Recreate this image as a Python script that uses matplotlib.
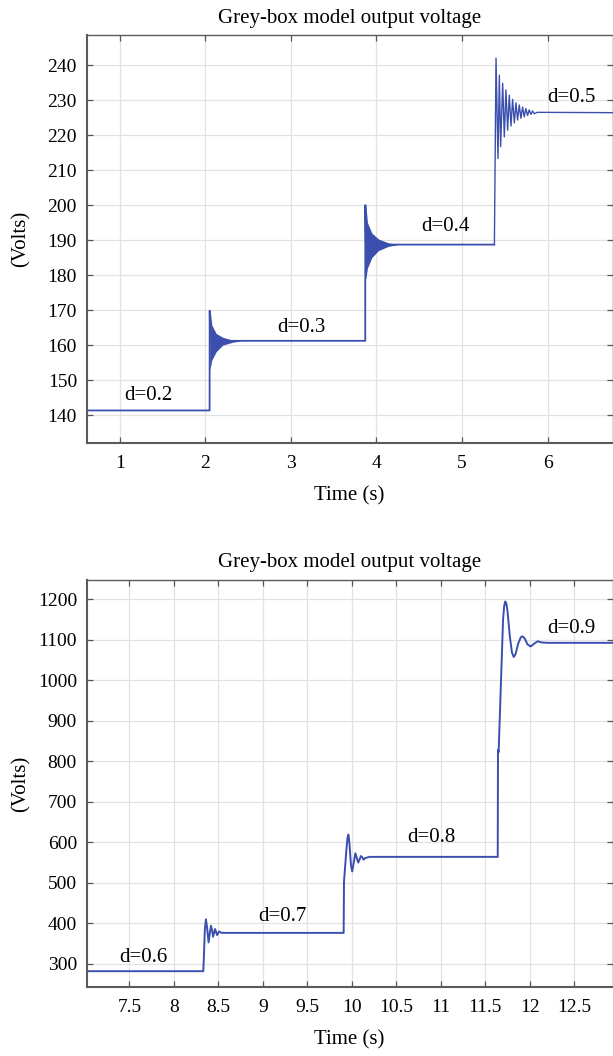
import matplotlib
matplotlib.use("Agg")
import matplotlib.pyplot as plt

# --- data ---
TITLE = "Grey-box model output voltage"
LINE_COLOR = "#3b4fae"

# top panel: step response, d = 0.2 .. 0.5
top_t = [0.60, 2.049, 2.050, 2.056, 3.869, 3.870, 3.876, 5.378]
top_v = [141.3, 141.3, 169.8, 161.2, 161.2, 200.0, 188.7, 188.7]

# dense ringing after the d=0.3 and d=0.4 steps (envelope)
env3_t = [2.050, 2.056, 2.075, 2.126, 2.204, 2.320, 2.420]
env3_hi = [169.8, 169.8, 165.7, 163.3, 162.2, 161.4, 161.2]
env3_lo = [153.3, 153.3, 155.7, 158.1, 160.0, 160.8, 161.2]

env4_t = [3.870, 3.876, 3.895, 3.946, 4.024, 4.140, 4.240]
env4_hi = [200.0, 200.0, 195.0, 192.0, 190.3, 189.2, 188.8]
env4_lo = [179.0, 179.0, 182.0, 185.0, 187.0, 188.2, 188.6]

# ringing after the d=0.5 step (individual peaks / troughs)
ring5_t = [5.379, 5.398, 5.421, 5.437, 5.452, 5.476, 5.495, 5.514, 5.534,
           5.553, 5.573, 5.592, 5.612, 5.631, 5.650, 5.670, 5.689, 5.709,
           5.728, 5.747, 5.767, 5.786, 5.806, 5.825, 5.845, 5.880, 6.800]
ring5_v = [188.7, 242.0, 213.3, 237.1, 216.7, 234.8, 219.5, 232.9, 221.4,
           231.4, 222.6, 230.2, 223.5, 229.2, 224.3, 228.6, 224.8, 228.0,
           225.2, 227.6, 225.6, 227.2, 225.9, 226.9, 226.1, 226.5, 226.4]

top_labels = ["d=0.2", "d=0.3", "d=0.4", "d=0.5"]
top_label_t = [1.33, 3.12, 4.81, 6.28]
top_label_v = [145.5, 165.1, 193.8, 230.6]

# bottom panel: d = 0.6 .. 0.9
bot_t = [7.00, 8.330, 8.336, 8.348, 8.360, 8.372, 8.390, 8.405, 8.417, 8.430,
         8.440, 8.452, 8.462, 8.474, 8.486, 8.498, 8.510, 8.530, 8.560,
         9.908, 9.912, 9.940, 9.952, 9.962, 9.972, 9.990, 10.004, 10.020,
         10.040, 10.058, 10.072, 10.088, 10.102, 10.118, 10.132, 10.150,
         10.200,
         11.640, 11.643, 11.650, 11.700, 11.712, 11.724, 11.736, 11.750,
         11.775, 11.800, 11.820, 11.840, 11.870, 11.900, 11.920, 11.945,
         11.975, 12.010, 12.050, 12.090, 12.130, 12.200, 13.000]
bot_v = [282, 282, 310, 385, 410, 392, 353, 378, 394, 382,
         367, 376, 386, 379, 371, 376, 380, 377, 376.5,
         376.5, 503, 585, 612, 619, 600, 545, 528, 548,
         573, 560, 550, 558, 566, 563, 557, 561,
         564,
         564, 828, 822, 1150, 1182, 1194, 1190, 1170,
         1110, 1068, 1057, 1064, 1090, 1106, 1108, 1102,
         1088, 1083, 1090, 1096, 1093, 1092, 1092]

bot_labels = ["d=0.6", "d=0.7", "d=0.8", "d=0.9"]
bot_label_t = [7.66, 9.22, 10.89, 12.47]
bot_label_v = [316, 417, 611, 1128]

top_xticks = [1, 2, 3, 4, 5, 6]
top_yticks = list(range(140, 241, 10))
bot_xticks = [7.5, 8, 8.5, 9, 9.5, 10, 10.5, 11, 11.5, 12, 12.5]
bot_xticklabels = ["7.5", "8", "8.5", "9", "9.5", "10", "10.5", "11", "11.5", "12", "12.5"]
bot_yticks = list(range(300, 1201, 100))

plt.rcParams['font.family'] = ['Liberation Serif', 'DejaVu Serif']

fig = plt.figure(figsize=(6.13, 10.56), dpi=100)

W, H = 613.0, 1056.0
left = 86.7 / W
width = (612.5 - 86.7) / W


def style_axes(ax):
    ax.grid(True, color="#e2e2e2", lw=0.9)
    ax.set_axisbelow(True)
    for name, s in ax.spines.items():
        s.set_color("#5a5a5a")
        s.set_linewidth(1.5 if name in ("left", "bottom") else 1.0)
    ax.tick_params(direction="in", length=4, width=0.9, color="#555555",
                   top=True, right=True, labelsize=14, pad=7)
    ax.tick_params(axis="x", pad=9)
    ax.set_title(TITLE, fontsize=15, pad=9)
    ax.set_xlabel("Time (s)", fontsize=15)
    ax.set_ylabel("(Volts)", fontsize=15)
    ax.yaxis.set_label_coords(-0.106, 0.5)
    ax.xaxis.set_label_coords(0.5, -0.105)


# --- top panel ---
ax1 = fig.add_axes([left, 1 - 443 / H, width, (443 - 35) / H])
ax1.fill_between(env3_t, env3_lo, env3_hi, color=LINE_COLOR, lw=0)
ax1.fill_between(env4_t, env4_lo, env4_hi, color=LINE_COLOR, lw=0)
ax1.plot(top_t, top_v, color=LINE_COLOR, lw=1.3)
ax1.plot(ring5_t, ring5_v, color=LINE_COLOR, lw=1.0)
for lab, x, y in zip(top_labels, top_label_t, top_label_v):
    ax1.text(x, y, lab, fontsize=15, ha="center", va="center")
ax1.set_xlim(0.612, 6.76)
ax1.set_ylim(132, 248.6)
ax1.set_xticks(top_xticks)
ax1.set_yticks(top_yticks)
style_axes(ax1)

# --- bottom panel ---
ax2 = fig.add_axes([left, 1 - 987 / H, width, (987 - 580) / H])
ax2.plot(bot_t, bot_v, color=LINE_COLOR, lw=1.4)
for lab, x, y in zip(bot_labels, bot_label_t, bot_label_v):
    ax2.text(x, y, lab, fontsize=15, ha="center", va="center")
ax2.set_xlim(7.02, 12.93)
ax2.set_ylim(243, 1247)
ax2.set_xticks(bot_xticks)
ax2.set_xticklabels(bot_xticklabels)
ax2.set_yticks(bot_yticks)
style_axes(ax2)

fig.savefig("out.png", dpi=100)
